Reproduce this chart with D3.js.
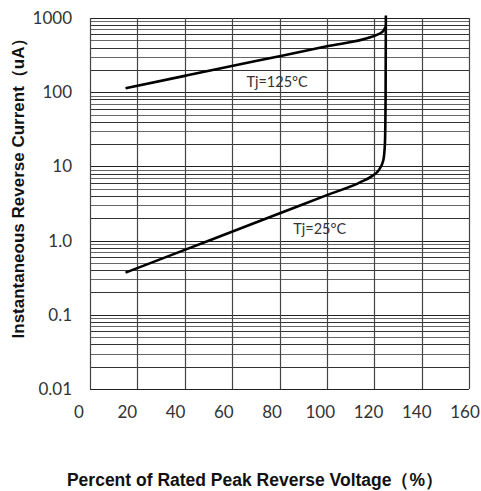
<!DOCTYPE html>
<html>
<head>
<meta charset="utf-8">
<script src="https://cdn.jsdelivr.net/npm/d3@7"></script>
<style>
  body { margin: 0; background: #fff; }
  svg { display: block; }
</style>
</head>
<body>
<div id="chart"></div>
<script>
// values
const xTicks = [0, 20, 40, 60, 80, 100, 120, 140, 160];
const yTicks = [0.01, 0.1, 1, 10, 100, 1000];
const yTickLabels = ["0.01", "0.1", "1.0", "10", "100", "1000"];

const volt25 = [15, 40, 70, 100, 114, 119, 122, 123.8, 124.5, 124.8, 124.9];
const cur25  = [0.37, 0.75, 1.75, 4.1, 6.1, 7.4, 9, 12, 20, 100, 1080];

const volt125 = [15, 40, 70, 100, 119, 122, 124, 124.75];
const cur125  = [113, 166, 263, 415, 560, 610, 680, 760];

const W = 481, H = 491;
const margin = {top: 18, right: 12, bottom: 102, left: 90};
const width = W - margin.left - margin.right,
      height = H - margin.top - margin.bottom;

const svg = d3.select("#chart").append("svg")
  .attr("width", W)
  .attr("height", H);

const g = svg.append("g")
  .attr("transform", `translate(${margin.left}, ${margin.top})`);

const x = d3.scaleLinear().domain([0, 160]).range([0, width]);
const y = d3.scaleLog().domain([0.01, 1000]).range([height, 0]);
// the x labels in the picture are spaced a little wider than the grid
const xLab = d3.scaleLinear().domain([0, 160]).range([79 - margin.left, 465 - margin.left]);

// minor log grid: 2..9 of each decade
const minor = [];
for (let d = -2; d < 3; d++) {
  for (let m = 2; m <= 9; m++) minor.push(m * Math.pow(10, d));
}

g.append("g").selectAll("line")
  .data(minor)
  .join("line")
  .attr("x1", 0).attr("x2", width)
  .attr("y1", d => Math.round(y(d)) + 0.5)
  .attr("y2", d => Math.round(y(d)) + 0.5)
  .style("stroke", (d, i) => i % 2 ? "#666" : "#333")
  .style("stroke-width", 1.1);

g.append("g").selectAll("line")
  .data(yTicks)
  .join("line")
  .attr("x1", 0).attr("x2", width)
  .attr("y1", d => Math.round(y(d)) + 0.5)
  .attr("y2", d => Math.round(y(d)) + 0.5)
  .style("stroke", "#222")
  .style("stroke-width", 1.2);

g.append("g").selectAll("line")
  .data(xTicks)
  .join("line")
  .attr("x1", d => Math.round(x(d)) + 0.5)
  .attr("x2", d => Math.round(x(d)) + 0.5)
  .attr("y1", 0).attr("y2", height)
  .style("stroke", "#444")
  .style("stroke-width", 1.2);

// tick labels
g.append("g").selectAll("text")
  .data(yTicks)
  .join("text")
  .attr("x", -18)
  .attr("y", d => y(d))
  .attr("dy", "0.35em")
  .attr("text-anchor", "end")
  .style("font-family", "Lato, 'Open Sans', sans-serif")
  .style("font-size", "17px")
  .style("fill", "#333")
  .text((d, i) => yTickLabels[i]);

g.append("g").selectAll("text")
  .data(xTicks)
  .join("text")
  .attr("x", d => xLab(d))
  .attr("y", height + 29)
  .attr("text-anchor", "middle")
  .style("font-family", "Lato, 'Open Sans', sans-serif")
  .style("font-size", "17px")
  .style("fill", "#333")
  .text(d => d);

// curves
const line = d3.line()
  .x(d => x(d[0]))
  .y(d => y(d[1]))
  .curve(d3.curveMonotoneX);

g.append("path")
  .datum(d3.zip(volt25, cur25))
  .attr("d", line)
  .style("fill", "none")
  .style("stroke", "#000")
  .style("stroke-width", 2.6);

g.append("path")
  .datum(d3.zip(volt125, cur125))
  .attr("d", line)
  .style("fill", "none")
  .style("stroke", "#000")
  .style("stroke-width", 2.6);

// curve labels
g.append("text")
  .attr("x", x(79)).attr("y", y(136))
  .attr("dy", "0.35em")
  .attr("text-anchor", "middle")
  .style("font-family", "Lato, 'Open Sans', sans-serif")
  .style("font-size", "14.5px")
  .style("fill", "#333")
  .text("Tj=125°C");

g.append("text")
  .attr("x", x(97)).attr("y", y(1.45))
  .attr("dy", "0.35em")
  .attr("text-anchor", "middle")
  .style("font-family", "Lato, 'Open Sans', sans-serif")
  .style("font-size", "14.5px")
  .style("fill", "#333")
  .text("Tj=25°C");

// axis titles
svg.append("text")
  .attr("transform", "translate(18, 184) rotate(-90)")
  .attr("dy", "0.35em")
  .attr("text-anchor", "middle")
  .style("font-family", "'Liberation Sans', Arial, sans-serif")
  .style("font-weight", "bold")
  .style("font-size", "17px")
  .style("fill", "#111")
  .text("Instantaneous Reverse Current（uA）");

svg.append("text")
  .attr("x", 255).attr("y", 480)
  .attr("dy", "0.35em")
  .attr("text-anchor", "middle")
  .style("font-family", "'Liberation Sans', Arial, sans-serif")
  .style("font-weight", "bold")
  .style("font-size", "17.5px")
  .style("fill", "#111")
  .text("Percent of Rated Peak Reverse Voltage（%）");
</script>
</body>
</html>
